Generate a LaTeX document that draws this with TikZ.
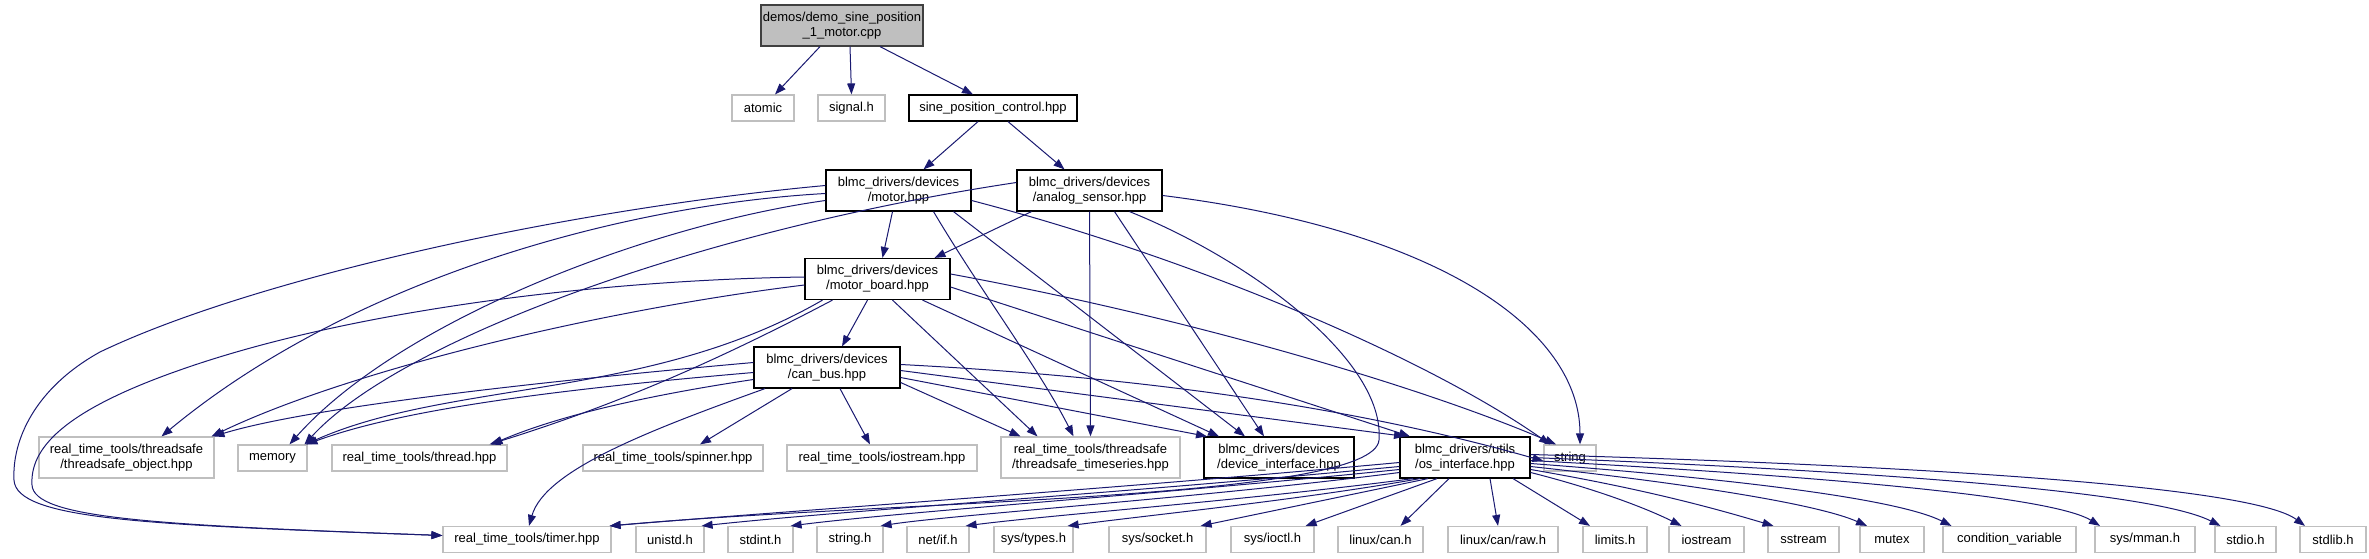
\documentclass[tikz,border=0pt]{standalone}
\usepackage{fontspec}
\setmainfont{Liberation Sans}
\usetikzlibrary{arrows.meta}
\definecolor{edgeblue}{HTML}{191970}
\definecolor{extgray}{HTML}{BFBFBF}
\definecolor{rootfill}{HTML}{BFBFBF}
\definecolor{rootdraw}{HTML}{404040}
\newcommand{\nfs}{\fontsize{13pt}{15pt}\selectfont}
\tikzset{
  base/.style={rectangle, inner sep=0pt, minimum height=26pt, align=center, font=\nfs, line width=1.2pt},
  ext/.style={base, draw=extgray},
  doc/.style={base, draw=black},
  root/.style={base, draw=rootdraw, fill=rootfill},
  two/.style={minimum height=41pt},
  dep/.style={draw=edgeblue, line width=1pt, -{Triangle[length=11pt,width=8pt]}}
}
\begin{document}
\begin{tikzpicture}[x=1pt,y=-1pt]
\useasboundingbox (0,0) rectangle (2369,559);
% level 0
\node[root,two,minimum width=162pt] (demo) at (842,25.5) {demos/demo\_sine\_position\\\_1\_motor.cpp};
% level 1
\node[ext,minimum width=62pt] (atomic) at (763,108) {atomic};
\node[ext,minimum width=67pt] (signal) at (851.5,108) {signal.h};
\node[doc,minimum width=168pt] (sine) at (993,108) {sine\_position\_control.hpp};
% level 2
\node[doc,two,minimum width=145pt] (motor) at (898.5,190.5) {blmc\_drivers/devices\\/motor.hpp};
\node[doc,two,minimum width=145pt] (analog) at (1089.5,190.5) {blmc\_drivers/devices\\/analog\_sensor.hpp};
% level 3
\node[doc,two,minimum width=145pt] (mboard) at (877.5,279) {blmc\_drivers/devices\\/motor\_board.hpp};
% level 4
\node[doc,two,minimum width=146pt] (canbus) at (827,367.5) {blmc\_drivers/devices\\/can\_bus.hpp};
% level 5
\node[ext,two,minimum width=175pt] (tsobj) at (126.5,457.5) {real\_time\_tools/threadsafe\\/threadsafe\_object.hpp};
\node[ext,minimum width=69pt] (memory) at (272.5,458) {memory};
\node[ext,minimum width=175pt] (thread) at (419.5,458) {real\_time\_tools/thread.hpp};
\node[ext,minimum width=180pt] (spinner) at (673,458) {real\_time\_tools/spinner.hpp};
\node[ext,minimum width=190pt] (rtios) at (882,458) {real\_time\_tools/iostream.hpp};
\node[ext,two,minimum width=179pt] (tsts) at (1090.5,457.5) {real\_time\_tools/threadsafe\\/threadsafe\_timeseries.hpp};
\node[doc,two,minimum width=150pt] (devif) at (1279,457.5) {blmc\_drivers/devices\\/device\_interface.hpp};
\node[doc,two,minimum width=130pt] (osif) at (1465,457.5) {blmc\_drivers/utils\\/os\_interface.hpp};
\node[ext,minimum width=52pt] (string) at (1570,458) {string};
% level 6
\node[ext,minimum width=168pt] (timer) at (527,539.5) {real\_time\_tools/timer.hpp};
\node[ext,minimum width=68pt] (unistd) at (670,539.5) {unistd.h};
\node[ext,minimum width=65pt] (stdint) at (760.5,539.5) {stdint.h};
\node[ext,minimum width=66pt] (stringh) at (850,539.5) {string.h};
\node[ext,minimum width=62pt] (netif) at (938,539.5) {net/if.h};
\node[ext,minimum width=79pt] (systypes) at (1033.5,539.5) {sys/types.h};
\node[ext,minimum width=97pt] (syssocket) at (1157.5,539.5) {sys/socket.h};
\node[ext,minimum width=83pt] (sysioctl) at (1272.5,539.5) {sys/ioctl.h};
\node[ext,minimum width=85pt] (linuxcan) at (1380.5,539.5) {linux/can.h};
\node[ext,minimum width=110pt] (canraw) at (1503,539.5) {linux/can/raw.h};
\node[ext,minimum width=64pt] (limits) at (1615,539.5) {limits.h};
\node[ext,minimum width=75pt] (iostream) at (1706.5,539.5) {iostream};
\node[ext,minimum width=71pt] (sstream) at (1803.5,539.5) {sstream};
\node[ext,minimum width=64pt] (mutex) at (1892,539.5) {mutex};
\node[ext,minimum width=133pt] (condvar) at (2009.5,539.5) {condition\_variable};
\node[ext,minimum width=100pt] (mman) at (2145,539.5) {sys/mman.h};
\node[ext,minimum width=61pt] (stdio) at (2245.5,539.5) {stdio.h};
\node[ext,minimum width=66pt] (stdlib) at (2333,539.5) {stdlib.h};

% demo edges
\path[dep] ([xshift=-22pt]demo.south) -- ([xshift=12pt]atomic.north);
\path[dep] ([xshift=8pt]demo.south) -- (signal.north);
\path[dep] ([xshift=38pt]demo.south) -- ([xshift=-20pt]sine.north);
% sine edges
\path[dep] ([xshift=-15pt]sine.south) -- ([xshift=25pt]motor.north);
\path[dep] ([xshift=15pt]sine.south) -- ([xshift=-25pt]analog.north);
% motor edges
\path[dep] ([xshift=-6pt]motor.south) -- ([xshift=5pt]mboard.north);
\path[dep] ([yshift=5pt]motor.west) .. controls (560,210) and (250,280) .. (100,352)
   .. controls (35,388) and (12,440) .. (14,480)
   .. controls (16,520) and (150,525) .. ([yshift=4pt]timer.west);
\path[dep] ([yshift=-3pt]motor.west) .. controls (620,205) and (350,280) .. ([xshift=35pt]tsobj.north);
\path[dep] ([yshift=-10pt]motor.west) .. controls (650,225) and (400,320) .. ([xshift=17pt]memory.north);
\path[dep] ([xshift=35pt]motor.south) .. controls (980,290) and (1040,370) .. ([xshift=-17pt]tsts.north);
\path[dep] ([xshift=55pt]motor.south) -- ([xshift=-34pt]devif.north);
\path[dep] ([yshift=-10pt]motor.east) .. controls (1200,260) and (1430,360) .. ([xshift=-20pt]string.north);
% analog edges
\path[dep] ([xshift=-58pt]analog.south) -- ([xshift=57pt]mboard.north);
\path[dep] ([yshift=8pt]analog.west) .. controls (700,230) and (400,340) .. ([xshift=32pt]memory.north);
\path[dep] (analog.south) -- (tsts.north);
\path[dep] ([xshift=25pt]analog.south) -- ([xshift=-15pt]devif.north);
\path[dep] ([xshift=40pt]analog.south) .. controls (1250,260) and (1385,360) .. (1379,440)
   .. controls (1374,500) and (900,500) .. ([xshift=-2pt]timer.north east);
\path[dep] ([yshift=-5pt]analog.east) .. controls (1440,230) and (1580,330) .. ([xshift=10pt]string.north);
% motor_board edges
\path[dep] ([xshift=-10pt]mboard.south) -- ([xshift=15pt]canbus.north);
\path[dep] ([yshift=2pt]mboard.west) .. controls (600,280) and (350,310) .. (180,370)
   .. controls (60,412) and (30,450) .. (32,485)
   .. controls (34,518) and (150,525) .. ([yshift=4pt]timer.west);
\path[dep] ([yshift=-6pt]mboard.west) .. controls (600,310) and (350,370) .. ([xshift=85pt]tsobj.north);
\path[dep] ([xshift=-55pt]mboard.south) .. controls (650,400) and (450,380) .. ([xshift=33pt]memory.north);
\path[dep] ([xshift=-45pt]mboard.south) .. controls (700,370) and (600,410) .. ([xshift=70pt]thread.north);
\path[dep] ([xshift=15pt]mboard.south) -- ([xshift=-53pt]tsts.north);
\path[dep] ([xshift=45pt]mboard.south) -- ([xshift=-60pt]devif.north);
\path[dep] ([yshift=-8pt]mboard.east) -- ([xshift=-55pt]osif.north);
\path[dep] ([yshift=5pt]mboard.east) .. controls (1200,320) and (1430,390) .. ([xshift=-14pt]string.north);
% can_bus edges
\path[dep] ([yshift=5pt]canbus.west) .. controls (500,385) and (300,410) .. ([xshift=87pt]tsobj.north);
\path[dep] ([yshift=-5pt]canbus.west) .. controls (550,390) and (400,410) .. ([xshift=34pt]memory.north);
\path[dep] ([yshift=-12pt]canbus.west) .. controls (650,395) and (560,415) .. ([xshift=72pt]thread.north);
\path[dep] ([xshift=-62pt]canbus.south) .. controls (650,430) and (545,470) .. ([xshift=2pt]timer.north);
\path[dep] ([xshift=-35pt]canbus.south) -- ([xshift=27pt]spinner.north);
\path[dep] ([xshift=13pt]canbus.south) -- ([xshift=-12pt]rtios.north);
\path[dep] ([yshift=-15pt]canbus.east) -- ([xshift=-70pt]tsts.north);
\path[dep] ([yshift=-10pt]canbus.east) -- ([xshift=-72pt]devif.north);
\path[dep] ([yshift=-3pt]canbus.east) -- ([xshift=-60pt]osif.north);
\path[dep] ([yshift=3pt]canbus.east) .. controls (1200,380) and (1400,420) .. ([yshift=-3pt]string.west);
% os_interface edges
\path[dep] ([yshift=-5pt]osif.west) .. controls (1100,490) and (800,510) .. ([xshift=-2pt]timer.north east);
\path[dep] ([yshift=-9pt]osif.west) .. controls (1100,495) and (850,510) .. ([xshift=-3pt]unistd.north east);
\path[dep] ([yshift=-12pt]osif.west) .. controls (1150,495) and (900,512) .. ([xshift=-3pt]stdint.north east);
\path[dep] ([yshift=-15pt]osif.west) .. controls (1200,498) and (950,515) .. ([xshift=-3pt]stringh.north east);
\path[dep] ([xshift=-52pt]osif.south) .. controls (1250,500) and (1050,515) .. ([xshift=-4pt]netif.north east);
\path[dep] ([xshift=-45pt]osif.south) .. controls (1300,500) and (1150,515) .. ([xshift=-6pt]systypes.north east);
\path[dep] ([xshift=-37pt]osif.south) -- ([xshift=-6pt]syssocket.north east);
\path[dep] ([xshift=-28pt]osif.south) -- ([xshift=-9pt]sysioctl.north east);
\path[dep] ([xshift=-16pt]osif.south) -- ([xshift=20pt]linuxcan.north);
\path[dep] ([xshift=25pt]osif.south) -- ([xshift=-5pt]canraw.north);
\path[dep] ([xshift=48pt]osif.south) -- ([xshift=-25pt]limits.north);
\path[dep] ([yshift=-15pt]osif.east) .. controls (1600,490) and (1650,510) .. ([xshift=-25pt]iostream.north);
\path[dep] ([yshift=-12pt]osif.east) .. controls (1650,490) and (1720,510) .. ([xshift=-30pt]sstream.north);
\path[dep] ([yshift=-9pt]osif.east) .. controls (1700,485) and (1820,505) .. ([xshift=-25pt]mutex.north);
\path[dep] ([yshift=-6pt]osif.east) .. controls (1750,480) and (1900,500) .. ([xshift=-58pt]condvar.north);
\path[dep] ([yshift=-3pt]osif.east) .. controls (1800,475) and (2050,495) .. ([xshift=-45pt]mman.north);
\path[dep] (osif.east) .. controls (1850,470) and (2150,490) .. ([xshift=-25pt]stdio.north);
\path[dep] ([yshift=3pt]osif.east) .. controls (1900,465) and (2250,485) .. ([xshift=-28pt]stdlib.north);
\end{tikzpicture}
\end{document}
